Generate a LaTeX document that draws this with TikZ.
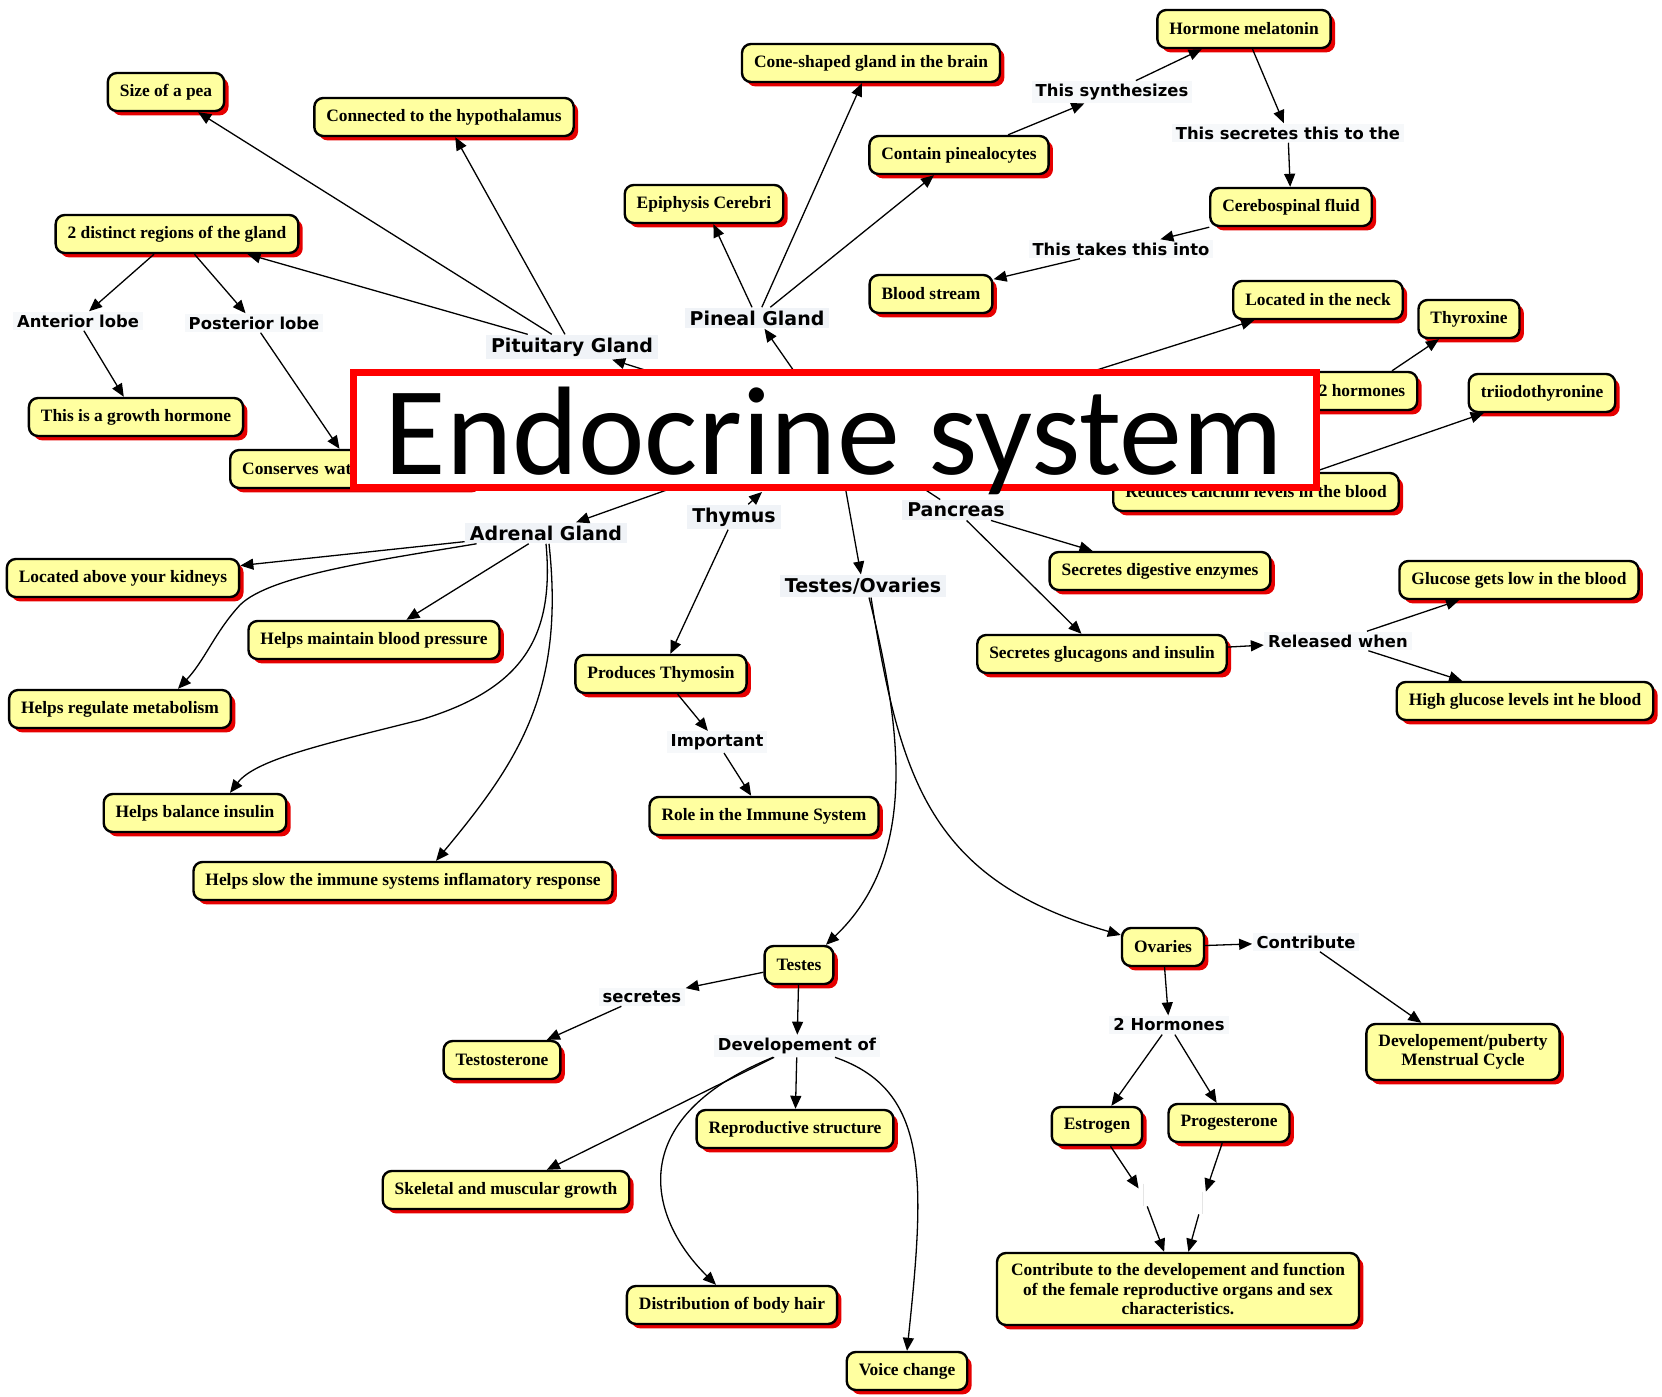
\documentclass[tikz,border=0pt]{standalone}
\usepackage{fontspec}
\usetikzlibrary{arrows.meta,shadows}
\newfontfamily\boxfont{Liberation Serif}
\newfontfamily\lblfont{DejaVu Sans}
\newfontfamily\titlefont{Carlito}
\definecolor{boxyellow}{RGB}{255,255,160}
\definecolor{shadowred}{RGB}{230,0,0}
\definecolor{lblbg}{RGB}{240,243,247}
\definecolor{titlered}{RGB}{255,0,0}
\begin{document}
\begin{tikzpicture}[x=0.5pt,y=-0.5pt,
  cbox/.style={draw=black, line width=1.2pt, fill=boxyellow, rounded corners=4.5pt,
    inner xsep=6pt, inner ysep=1pt, minimum height=19pt,
    font=\boxfont\bfseries\fontsize{8.7pt}{9.6pt}\selectfont,
    drop shadow={shadow xshift=2.2pt, shadow yshift=-2.2pt, fill=shadowred, opacity=1}},
  gland/.style={fill=lblbg, inner xsep=2.5pt, inner ysep=1.5pt, font=\lblfont\bfseries\fontsize{9.5pt}{11pt}\selectfont},
  lphrase/.style={fill=lblbg!60!white, inner xsep=2pt, inner ysep=1.5pt, font=\lblfont\bfseries\fontsize{8.2pt}{10pt}\selectfont},
  conn/.style={line width=0.65pt, -{Triangle[length=6.5pt,width=5.5pt]}},
  plainconn/.style={line width=0.65pt},
  blank/.style={inner sep=0pt, minimum width=4pt, minimum height=11pt},
]
\fill[white] (0,0) rectangle (1662,1397);
\useasboundingbox (0,0) rectangle (1662,1397);

% hidden sources (under the title)
\coordinate (center) at (835,430);
\coordinate (thyr) at (1005,399);
\coordinate (thyTip) at (762,492);

% boxes
\node[cbox] (pea) at (166,92) {Size of a pea};
\node[cbox] (hypo) at (444,117) {Connected to the hypothalamus};
\node[cbox] (regions) at (177,234) {2 distinct regions of the gland};
\node[cbox] (growth) at (136,417) {This is a growth hormone};
\node[cbox, anchor=west, text width=111pt, align=left] (cons) at (229,469) {Conserves water};
\node[cbox] (cone) at (871,63) {Cone-shaped gland in the brain};
\node[cbox] (melat) at (1244,29) {Hormone melatonin};
\node[cbox] (pinea) at (959,155) {Contain pinealocytes};
\node[cbox] (epi) at (704,204) {Epiphysis Cerebri};
\node[cbox] (csf) at (1291,207) {Cerebospinal fluid};
\node[cbox] (blood) at (931,294) {Blood stream};
\node[cbox] (neck) at (1318,300) {Located in the neck};
\node[cbox] (thyrox) at (1469,319) {Thyroxine};
\node[cbox] (twohorm) at (1362,391) {2 hormones};
\node[cbox] (triiodo) at (1542,393) {triiodothyronine};
\node[cbox] (calcium) at (1256,492) {Reduces calcium levels in the blood};
\node[cbox] (kidneys) at (123,578) {Located above your kidneys};
\node[cbox] (bp) at (374,640) {Helps maintain blood pressure};
\node[cbox] (metab) at (120,709) {Helps regulate metabolism};
\node[cbox] (insulin) at (195,813) {Helps balance insulin};
\node[cbox] (slow) at (403,881) {Helps slow the immune systems inflamatory response};
\node[cbox] (thymosin) at (661,674) {Produces Thymosin};
\node[cbox] (role) at (764,816) {Role in the Immune System};
\node[cbox] (digest) at (1160,571) {Secretes digestive enzymes};
\node[cbox] (glucagon) at (1102,654) {Secretes glucagons and insulin};
\node[cbox] (glow) at (1519,580) {Glucose gets low in the blood};
\node[cbox] (ghigh) at (1525,701) {High glucose levels int he blood};
\node[cbox] (testes) at (799,965) {Testes};
\node[cbox] (testost) at (502,1060) {Testosterone};
\node[cbox] (repro) at (795,1129) {Reproductive structure};
\node[cbox] (skel) at (506,1190) {Skeletal and muscular growth};
\node[cbox] (hair) at (732,1305) {Distribution of body hair};
\node[cbox] (voice) at (907,1371) {Voice change};
\node[cbox] (ovaries) at (1163,947) {Ovaries};
\node[cbox, align=center, minimum height=28pt] (puberty) at (1463,1052) {Developement/puberty\\Menstrual Cycle};
\node[cbox] (estrogen) at (1097,1126) {Estrogen};
\node[cbox] (progest) at (1229,1123) {Progesterone};
\node[cbox, align=center, minimum height=36pt, inner xsep=7pt] (female) at (1178,1289) {Contribute to the developement and function\\of the female reproductive organs and sex\\characteristics.};

% labels
\node[lphrase] (ant) at (78,321) {Anterior lobe};
\node[lphrase] (post) at (254,323) {Posterior lobe};
\node[gland] (pit) at (572,347) {Pituitary Gland};
\node[gland] (pin) at (757,318) {Pineal Gland};
\node[lphrase] (synth) at (1112,92) {This synthesizes};
\node[lphrase] (secr) at (1288,133) {This secretes this to the};
\node[lphrase] (takes) at (1121,249) {This takes this into};
\node[gland] (adr) at (546,533) {Adrenal Gland};
\node[gland] (thy) at (734,517) {Thymus};
\node[gland] (panc) at (956,510) {Pancreas};
\node[gland] (tesov) at (863,586) {Testes/Ovaries};
\node[lphrase] (imp) at (717,742) {Important};
\node[lphrase] (rel) at (1338,641) {Released when};
\node[lphrase] (secs) at (642,997) {secretes};
\node[lphrase] (devof) at (797,1046) {Developement of};
\node[lphrase] (contr) at (1306,942) {Contribute};
\node[lphrase] (twoh) at (1169,1025) {2 Hormones};
\node[blank] (e1) at (1143,1195) {};
\node[blank] (e2) at (1202,1203) {};
\draw[black!10, line width=0.5pt] (e1.north) -- (e1.south);
\draw[black!10, line width=0.5pt] (e2.north) -- (e2.south);

% connectors from the hidden centre
\draw[conn] (center) -- (pit);
\draw[conn] (center) -- (pin);
\draw[conn] (center) -- (adr);
\draw[plainconn] (center) -- (panc);
\draw[conn] (center) -- (tesov);
\draw[conn] (thy) -- (thyTip);
\draw[conn] (thyr) -- (neck);
\draw[conn] (thyr) -- (twohorm);
\draw[conn] (thyr) -- (calcium);

% pituitary
\draw[conn] (pit) -- (pea);
\draw[conn] (pit) -- (hypo);
\draw[conn] (pit) -- (regions);
\draw[conn] (regions) -- (ant);
\draw[conn] (regions) -- (post);
\draw[conn] (ant) -- (growth);
\draw[conn] (post) -- (cons);

% pineal
\draw[conn] (pin) -- (epi);
\draw[conn] (pin) -- (cone);
\draw[conn] (pin) -- (pinea);
\draw[conn] (pinea) -- (synth);
\draw[conn] (synth) -- (melat);
\draw[conn] (melat) -- (secr);
\draw[conn] (secr) -- (csf);
\draw[conn] (csf) -- (takes);
\draw[conn] (takes) -- (blood);

% thyroid
\draw[conn] (twohorm) -- (thyrox);
\draw[conn] (calcium) -- (triiodo);

% adrenal
\draw[conn] (adr) -- (kidneys);
\draw[conn] (adr) -- (bp);
\draw[conn] ([xshift=6pt]adr.south west) .. controls (380,560) and (270,575) .. (240,605)
   .. controls (215,632) and (205,660) .. ([xshift=29pt]metab.north);
\draw[conn] (adr.south) .. controls (555,640) and (520,690) .. (420,720)
   .. controls (320,745) and (255,760) .. ([xshift=17.5pt]insulin.north);
\draw[conn] ([xshift=1.5pt]adr.south) .. controls (565,690) and (520,760) .. ([xshift=16.5pt]slow.north);

% thymus
\draw[conn] (thy) -- (thymosin);
\draw[conn] (thymosin) -- (imp);
\draw[conn] (imp) -- (role);

% pancreas
\draw[conn] (panc) -- (digest);
\draw[conn] (panc) -- (glucagon);
\draw[conn] (glucagon) -- (rel);
\draw[conn] (rel) -- (glow);
\draw[conn] (rel) -- (ghigh);

% testes / ovaries
\draw[conn] ([xshift=3pt]tesov.south) .. controls (905,740) and (915,860) .. ([xshift=13.5pt]testes.north);
\draw[conn] ([xshift=4pt]tesov.south) .. controls (900,780) and (930,880) .. ([yshift=6pt]ovaries.west);
\draw[conn] (testes) -- (secs);
\draw[conn] (secs) -- (testost);
\draw[conn] (testes) -- (devof);
\draw[conn] (devof) -- (repro);
\draw[conn] (devof) -- (skel);
\draw[conn] ([xshift=-12pt]devof.south) .. controls (620,1120) and (650,1220) .. ([xshift=-8pt]hair.north);
\draw[conn] ([xshift=19pt]devof.south) .. controls (930,1090) and (925,1180) .. (voice.north);
\draw[conn] (ovaries) -- (contr);
\draw[conn] (contr) -- (puberty);
\draw[conn] (ovaries) -- (twoh);
\draw[conn] (twoh) -- (estrogen);
\draw[conn] (twoh) -- (progest);
\draw[conn] (estrogen) -- (e1);
\draw[conn] (e1) -- (female);
\draw[conn] (progest) -- (e2);
\draw[conn] (e2) -- (female);

% title on top
\node[draw=titlered, line width=3.5pt, fill=white, minimum width=481.5pt, minimum height=57.5pt, inner sep=0pt] (title) at (835,430) {};
\node[anchor=base, inner sep=0pt, font=\titlefont\fontsize{63pt}{63pt}\selectfont] (titletext) at (834,474) {Endocrine system};
\end{tikzpicture}
\end{document}
